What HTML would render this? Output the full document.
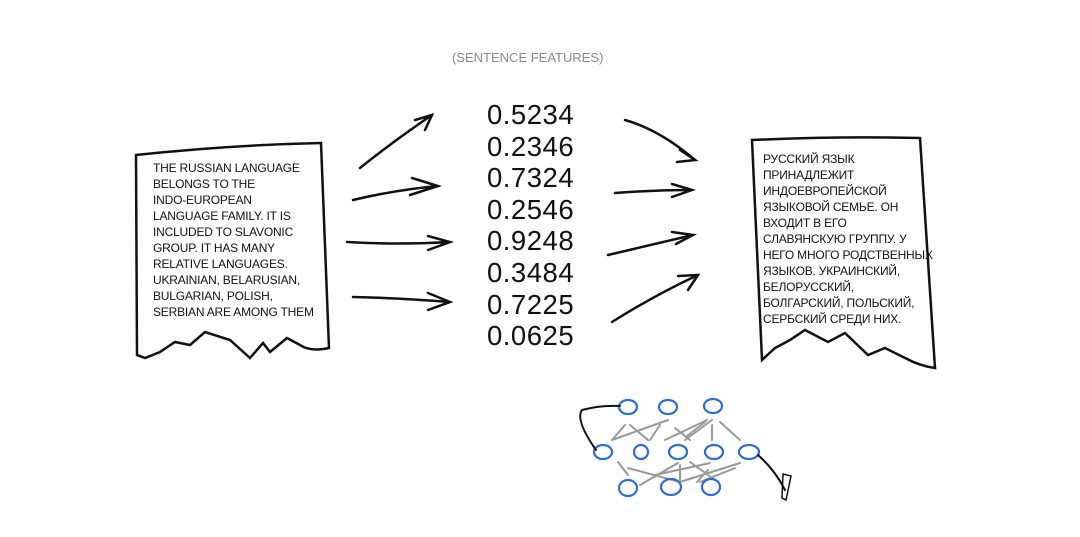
<!DOCTYPE html>
<html><head><meta charset="utf-8"><style>
body{margin:0;background:#fff;width:1080px;height:537px;overflow:hidden;font-family:"Liberation Sans","Noto Sans CJK SC",sans-serif}
.t{position:absolute;font-size:12px;line-height:16px;color:#111;letter-spacing:-0.2px}
.n{position:absolute;left:487px;font-size:27.5px;line-height:31.6px;color:#111;letter-spacing:0.5px}
</style></head><body>
<div style="position:absolute;left:452px;top:50px;font-size:13px;color:#888">(SENTENCE FEATURES)</div>
<svg width="1080" height="537" style="position:absolute;left:0;top:0" fill="none" stroke="#111" stroke-width="2.5" stroke-linecap="round">
<path d="M136 155 Q230 145 321 143 L329 348 Q310 352 300 345 L287 338 L270 352 L263 343 L250 358 L230 340 L205 332 L190 345 L175 342 L160 352 L145 358 L137 355 Z"/>
<path d="M752 140 Q840 136 920 138 L935 368 Q920 366 905 358 L885 348 L868 355 L845 333 L828 342 L805 330 L790 340 L775 348 L762 360 Z"/>
<path d="M360 168 Q395 140 432 115 M415 120 L432 115 L425 130"/>
<path d="M353 200 Q395 190 438 186 M412 178 L438 186 L410 195"/>
<path d="M347 242 Q400 245 450 242 M428 236 L450 242 L428 250"/>
<path d="M353 297 Q400 298 450 302 M428 293 L450 302 L428 310"/>
<path d="M625 120 Q660 130 695 160 M680 150 L695 160 L677 162"/>
<path d="M615 193 Q655 190 692 190 M672 184 L692 190 L672 197"/>
<path d="M608 255 Q650 245 693 235 M672 232 L693 235 L676 244"/>
<path d="M612 322 Q655 295 698 275 M678 276 L698 275 L688 290"/>
<g stroke="#999" stroke-width="2">
<path d="M612 440 L625 425 M630 425 L648 440 M612 440 L668 420 M650 440 L660 425 M665 440 L707 420 M675 428 L690 440 M685 440 L712 420 M687 436 L705 422 M712 425 L712 440 M720 422 L740 440 M618 462 L628 475 M628 468 L680 482 M640 485 L678 463 M655 475 L710 463 M680 480 L680 465 M690 462 L715 480 M680 482 L740 463 M697 482 L708 470 M700 482 L735 468"/>
</g>
<g stroke="#2c6fd1" stroke-width="2.2">
<ellipse cx="628" cy="407" rx="9" ry="7"/><ellipse cx="668" cy="407" rx="9" ry="7"/><ellipse cx="713" cy="406" rx="9" ry="7"/>
<ellipse cx="603" cy="452" rx="9" ry="7"/><ellipse cx="641" cy="452" rx="7" ry="7"/><ellipse cx="678" cy="452" rx="9" ry="7"/><ellipse cx="714" cy="452" rx="9" ry="7"/><ellipse cx="749" cy="452" rx="10" ry="7"/>
<ellipse cx="628" cy="488" rx="9" ry="8"/><ellipse cx="671" cy="487" rx="10" ry="8"/><ellipse cx="711" cy="487" rx="9" ry="8"/>
</g>
<path stroke-width="2" d="M596 450 Q575 420 582 410 Q600 405 620 406"/>
<path stroke-width="2" d="M758 455 Q775 470 785 490"/>
<path stroke-width="1.5" d="M783 474 L791 476 L786 500 L782 498 Z"/>
</svg>
<div class="t" style="left:153px;top:160px">THE RUSSIAN LANGUAGE<br>BELONGS TO THE<br>INDO-EUROPEAN<br>LANGUAGE FAMILY. IT IS<br>INCLUDED TO SLAVONIC<br>GROUP. IT HAS MANY<br>RELATIVE LANGUAGES.<br>UKRAINIAN, BELARUSIAN,<br>BULGARIAN, POLISH,<br>SERBIAN ARE AMONG THEM</div>
<div class="t" style="left:763px;top:151px">РУССКИЙ ЯЗЫК<br>ПРИНАДЛЕЖИТ<br>ИНДОЕВРОПЕЙСКОЙ<br>ЯЗЫКОВОЙ СЕМЬЕ. ОН<br>ВХОДИТ В ЕГО<br>СЛАВЯНСКУЮ ГРУППУ. У<br>НЕГО МНОГО РОДСТВЕННЫХ<br>ЯЗЫКОВ. УКРАИНСКИЙ,<br>БЕЛОРУССКИЙ,<br>БОЛГАРСКИЙ, ПОЛЬСКИЙ,<br>СЕРБСКИЙ СРЕДИ НИХ.</div>
<div class="n" style="top:99px">0.5234<br>0.2346<br>0.7324<br>0.2546<br>0.9248<br>0.3484<br>0.7225<br>0.0625</div>
</body></html>
